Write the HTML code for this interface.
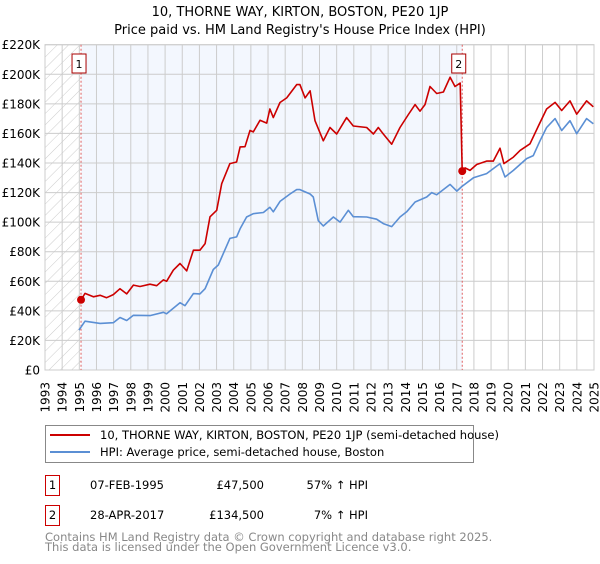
<!DOCTYPE html>
<html><head><meta charset="utf-8"><style>
body{margin:0;background:#fff;font-family:"DejaVu Sans","Liberation Sans",sans-serif;}
svg text{font-family:"DejaVu Sans","Liberation Sans",sans-serif;}
</style></head><body>
<svg id="c" width="600" height="560" xmlns="http://www.w3.org/2000/svg">
<defs><pattern id="hatch" width="8" height="8" patternUnits="userSpaceOnUse" patternTransform="rotate(45)"><line x1="0" y1="0" x2="0" y2="8" stroke="#ccc" stroke-width="1"/></pattern></defs>
<text x="300" y="16" text-anchor="middle" font-size="13">10, THORNE WAY, KIRTON, BOSTON, PE20 1JP</text>
<text x="300" y="34" text-anchor="middle" font-size="13">Price paid vs. HM Land Registry's House Price Index (HPI)</text>
<g id="plot"></g>
<g>
<rect x="45.5" y="425.5" width="428" height="37" fill="#fff" stroke="#888"/>
<line x1="50" y1="435" x2="90" y2="435" stroke="#cc0000" stroke-width="2"/>
<text x="100" y="439" font-size="11.5">10, THORNE WAY, KIRTON, BOSTON, PE20 1JP (semi-detached house)</text>
<line x1="50" y1="452" x2="90" y2="452" stroke="#5b8fd4" stroke-width="2"/>
<text x="100" y="456" font-size="11.5">HPI: Average price, semi-detached house, Boston</text>
</g>
<g font-size="11.5">
<rect x="45.5" y="475.5" width="14" height="20" fill="#fff" stroke="#cc0000"/>
<text x="52.5" y="489" text-anchor="middle">1</text>
<text x="90" y="489">07-FEB-1995</text>
<text x="264" y="489" text-anchor="end">£47,500</text>
<text x="368" y="489" text-anchor="end">57% ↑ HPI</text>
<rect x="45.5" y="505.5" width="14" height="20" fill="#fff" stroke="#cc0000"/>
<text x="52.5" y="519" text-anchor="middle">2</text>
<text x="90" y="519">28-APR-2017</text>
<text x="264" y="519" text-anchor="end">£134,500</text>
<text x="368" y="519" text-anchor="end">7% ↑ HPI</text>
</g>
<text x="45" y="541" font-size="11.5" fill="#888">Contains HM Land Registry data © Crown copyright and database right 2025.</text>
<text x="45" y="551" font-size="11.5" fill="#888">This data is licensed under the Open Government Licence v3.0.</text>
</svg>
<script>
const hpiYears=[1994.98,1995.33,1996.21,1996.98,1997.37,1997.76,1998.15,1999.12,1999.9,2000.09,2000.87,2001.16,2001.65,2002.03,2002.33,2002.81,2003.1,2003.78,2004.17,2004.37,2004.75,2005.14,2005.73,2006.11,2006.31,2006.7,2007.28,2007.67,2007.86,2008.45,2008.64,2008.93,2009.22,2009.81,2010.2,2010.68,2010.97,2011.75,2012.33,2012.72,2013.21,2013.69,2014.08,2014.57,2015.25,2015.54,2015.83,2016.61,2017.0,2017.29,2017.97,2018.74,2019.52,2019.81,2020.3,2021.07,2021.46,2021.85,2022.24,2022.73,2023.12,2023.6,2023.99,2024.57,2024.96];
const hpiValues=[27,33,31.5,32,35.5,33.5,37,36.8,39,38,45.5,43.5,51.7,51.5,55,68,71,89,90,95.5,103.5,105.7,106.5,110,107,114,119,122,122,119,117,101,97.4,103.5,100,108,103.7,103.5,102,99,97,103.5,107,113.6,117,120,118.5,125.5,121,124,130,132.8,139.6,130.5,135,143,145,155,164,170,162,168.6,159.8,170,166.6];
const priceYears=[1995.1,1995.33,1995.82,1996.21,1996.59,1996.98,1997.37,1997.76,1998.15,1998.54,1999.12,1999.51,1999.9,2000.09,2000.48,2000.87,2001.26,2001.65,2002.03,2002.33,2002.62,2003.01,2003.3,2003.78,2004.17,2004.37,2004.66,2004.95,2005.14,2005.53,2005.92,2006.11,2006.31,2006.7,2007.09,2007.67,2007.86,2008.16,2008.45,2008.74,2009.22,2009.61,2010.0,2010.58,2010.97,2011.75,2012.14,2012.43,2012.72,2013.21,2013.69,2014.18,2014.57,2014.86,2015.15,2015.44,2015.83,2016.22,2016.61,2016.9,2017.2,2017.32,2017.48,2017.77,2018.16,2018.74,2019.13,2019.52,2019.75,2020.3,2020.69,2021.27,2021.76,2022.24,2022.73,2023.12,2023.6,2023.99,2024.57,2024.96];
const priceValues=[47.3,51.8,49.5,50.5,48.9,51,55,51.5,57.4,56.5,58,57,61,60,67.5,72,67,81,81,85.5,103.6,108,126,139.6,140.7,150.9,151,162,161,168.9,167,176.5,170.7,180.9,184,193,193,184,188.8,168.6,155,164,159.6,170.7,165,164,159.6,164,159.6,152.7,164,172.8,179.5,175,179.5,191.7,187,188,198,191.7,194,134.5,136.7,135,139,141.3,141.3,150,139.6,144,148.5,153,165,176.5,181,175.5,182,173,182,178];
const sales=[{label:"1",year:1995.1,value:47.5},{label:"2",year:2017.32,value:134.5}];
const badgeOffsets=[-2,-3.5];
const yTicks=[0,20,40,60,80,100,120,140,160,180,200,220];
const xTicks=[];for(let y=1993;y<=2025;y++)xTicks.push(y);
const X0=45,X1=594,Y0=370,Y1=44.7;
const sx=y=>X0+(y-1993)/(2025-1993)*(X1-X0);
const sy=v=>Y0-v/220*(Y0-Y1);
const NS="http://www.w3.org/2000/svg";
const g=document.getElementById('plot');
function mk(t,a){const e=document.createElementNS(NS,t);for(const k in a)e.setAttribute(k,a[k]);g.appendChild(e);return e;}
let e;
e=mk('rect',{x:X0,y:Y1,width:sx(sales[0].year)-X0,height:Y0-Y1,fill:'url(#hatch)'});


e=mk('rect',{x:sx(sales[0].year),y:Y1,width:sx(sales[1].year)-sx(sales[0].year),height:Y0-Y1,fill:'#eef3fd',opacity:0.7});


yTicks.forEach(v=>{
 e=mk('line',{x1:X0,x2:X1,y1:sy(v),y2:sy(v),stroke:'#ccc','stroke-width':1});
 
 
 e=mk('text',{x:40,y:sy(v)+4.5,'text-anchor':'end','font-size':12});
 e.textContent=v===0?'£0':'£'+v+'K';
 
 
});
xTicks.forEach(y=>{
 e=mk('line',{x1:sx(y),x2:sx(y),y1:Y1,y2:Y0,stroke:'#ccc','stroke-width':1});
 
 
 e=mk('text',{x:0,y:0,'font-size':12,'text-anchor':'end',transform:`translate(${sx(y)+4.5},382) rotate(-90)`});
 e.textContent=y;
 
 
});
e=mk('rect',{x:X0,y:Y1,width:X1-X0,height:Y0-Y1,fill:'none',stroke:'#ccc'});


sales.forEach(s=>{
 e=mk('line',{x1:sx(s.year),x2:sx(s.year),y1:Y1,y2:Y0,stroke:'#e06060','stroke-width':1,'stroke-dasharray':'2,2'});
 
 
});
function path(xs,vs,col,name){
 const d=xs.map((x,i)=>(i?'L':'M')+sx(x).toFixed(1)+','+sy(vs[i]).toFixed(1)).join('');
 e=mk('path',{d:d,fill:'none',stroke:col,'stroke-width':1.6,'stroke-linejoin':'round'});
 
 
}
path(hpiYears,hpiValues,'#5b8fd4','hpi-line');
path(priceYears,priceValues,'#cc0000','price-line');
sales.forEach((s,i)=>{
 e=mk('circle',{cx:sx(s.year),cy:sy(s.value),r:4,fill:'#cc0000'});
 
 
 const bx=sx(s.year)+badgeOffsets[i];
 e=mk('rect',{x:bx-7,y:54,width:14,height:19,fill:'#fff',stroke:'#aa0000'});
 
 
 e=mk('text',{x:bx,y:68,'text-anchor':'middle','font-size':11});
 e.textContent=s.label;
 
 
});
</script>
</body></html>
